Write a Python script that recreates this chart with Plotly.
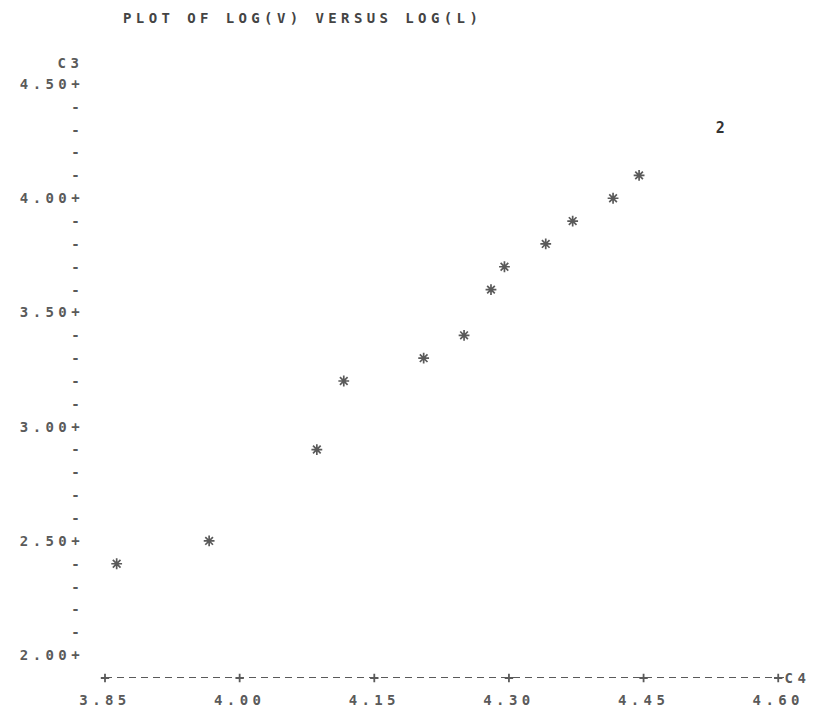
import plotly.graph_objects as go
from collections import Counter

# ---- data ----
log_l = [3.863, 3.966, 4.086, 4.116, 4.205, 4.250, 4.280, 4.295,
         4.341, 4.371, 4.416, 4.445, 4.538, 4.538]
log_v = [2.4, 2.5, 2.9, 3.2, 3.3, 3.4, 3.6, 3.7,
         3.8, 3.9, 4.0, 4.1, 4.3, 4.3]

x_ticks = [3.85, 4.00, 4.15, 4.30, 4.45, 4.60]
x_tick_labels = ["3.85", "4.00", "4.15", "4.30", "4.45", "4.60"]
y_major = [2.0, 2.5, 3.0, 3.5, 4.0, 4.5]
y_major_labels = ["2.00", "2.50", "3.00", "3.50", "4.00", "4.50"]
y_step = 0.1
y_base = 1.9          # printer row that carries the x axis
x_range = [3.85, 4.612]
y_range = [y_base, 4.5]

title = "PLOT OF LOG(V) VERSUS LOG(L)"
x_name = "C4"
y_name = "C3"

INK = "#5a5a5a"
FONT = "DejaVu Sans Mono"
FS = 14

# ---- y rows: '+' at major values, '-' at every other printer row ----
n_rows = int(round((y_major[-1] - y_major[0]) / y_step))
y_rows = [round(y_major[0] + i * y_step, 1) for i in range(n_rows + 1)]
y_row_text = []
for v in y_rows:
    if v in y_major:
        y_row_text.append(y_major_labels[y_major.index(v)] + "+")
    else:
        y_row_text.append("-")

# ---- group coincident points (printer prints a count) ----
counts = Counter(zip(log_l, log_v))
single = [(k, c) for k, c in counts.items() if c == 1]
multi = [(k, c) for k, c in counts.items() if c > 1]

fig = go.Figure()

fig.add_trace(go.Scatter(
    x=[k[0] for k, _ in single], y=[k[1] for k, _ in single],
    mode="markers",
    marker=dict(symbol="asterisk-open", size=9,
                line=dict(width=1.7, color=INK), color=INK),
    cliponaxis=False, hoverinfo="skip", showlegend=False))

fig.add_trace(go.Scatter(
    x=[k[0] for k, _ in multi], y=[k[1] for k, _ in multi],
    mode="text", text=[str(c) for _, c in multi],
    textfont=dict(family=FONT, size=15, color="#333333", weight="bold"),
    cliponaxis=False, hoverinfo="skip", showlegend=False))

# '+' characters on the x axis row
fig.add_trace(go.Scatter(
    x=x_ticks, y=[y_base] * len(x_ticks),
    mode="markers",
    marker=dict(symbol="cross-thin", size=6,
                line=dict(width=1.8, color=INK)),
    cliponaxis=False, hoverinfo="skip", showlegend=False))

# dashed printer axis line
fig.add_shape(type="line", xref="paper", yref="y",
              x0=0, x1=1, y0=y_base, y1=y_base,
              line=dict(color=INK, width=1.8, dash="7px,5px"))

fig.add_annotation(text=y_name, xref="paper", yref="y",
                   x=0, y=y_major[-1], xanchor="right", yanchor="middle",
                   xshift=-24, yshift=21, showarrow=False,
                   font=dict(family=FONT, size=FS, color=INK, weight="bold"))
fig.add_annotation(text=x_name, xref="paper", yref="y",
                   x=1, y=y_base, xanchor="right", yanchor="middle",
                   xshift=19, showarrow=False,
                   font=dict(family=FONT, size=FS, color=INK, weight="bold"))

fig.update_layout(
    width=813, height=712, autosize=False,
    margin=dict(l=105, r=24, t=84, b=34),
    paper_bgcolor="white", plot_bgcolor="white",
    title=dict(text=title, x=123 / 813, xanchor="left",
               y=1 - 18 / 712, yanchor="middle",
               font=dict(family=FONT, size=FS, color="#444444", weight="bold")),
    xaxis=dict(range=x_range, showgrid=False, zeroline=False, showline=False,
               automargin=False,
               tickvals=x_ticks, ticktext=x_tick_labels, ticks="",
               ticklabelstandoff=12,
               tickfont=dict(family=FONT, size=FS, color=INK, weight="bold")),
    yaxis=dict(range=y_range, showgrid=False, zeroline=False, showline=False,
               automargin=False,
               tickvals=y_rows, ticktext=y_row_text, ticks="",
               ticklabelstandoff=20,
               tickfont=dict(family=FONT, size=FS, color=INK, weight="bold")),
)

post = ("document.querySelectorAll('.main-svg text').forEach(function(t){"
        "t.style.letterSpacing='4.4px';});")
fig.write_html("out.html", post_script=post)
